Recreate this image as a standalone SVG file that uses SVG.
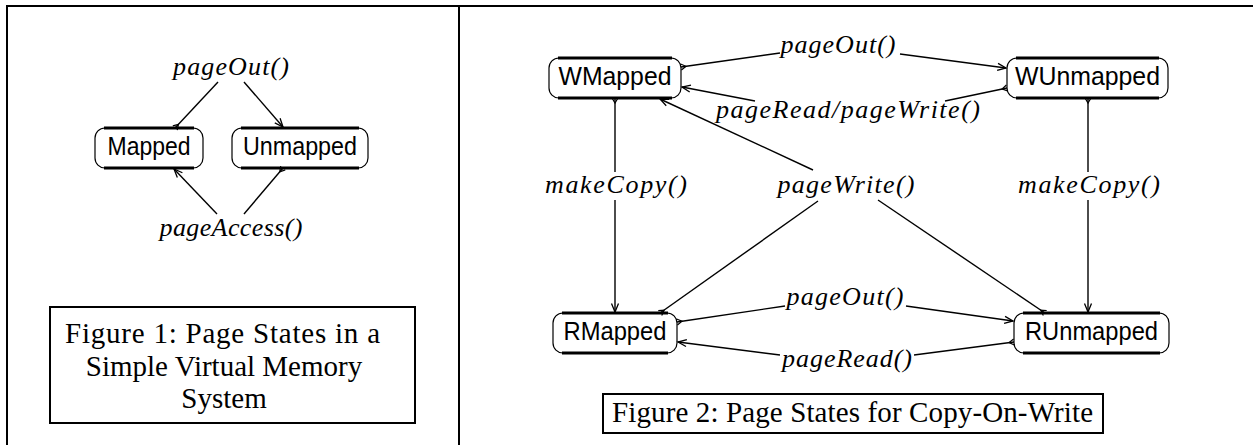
<svg xmlns="http://www.w3.org/2000/svg" width="1253" height="445" viewBox="0 0 1253 445">
  <style>
    .frame { stroke: #000; stroke-width: 2; fill: none; }
    .box { fill: #fff; stroke: #000; stroke-width: 1.2; }
    .edge { stroke: #000; stroke-width: 3.2; fill: none; }
    .state { font-family: "Liberation Sans", Arial, sans-serif; font-size: 25px; fill: #000; }
    .lbl { font-family: "Liberation Serif", "Times New Roman", serif; font-style: italic; font-size: 26px; fill: #000; }
    .cap { font-family: "Liberation Serif", "Times New Roman", serif; font-size: 29px; fill: #000; }
    .conn { stroke: #000; stroke-width: 1.4; fill: none; }
    .to { marker-end: url(#head); }
    .from { marker-start: url(#tail); }
  </style>
  <defs>
    <!-- open arrowhead at the target state -->
    <marker id="head" markerUnits="userSpaceOnUse" markerWidth="12" markerHeight="10" refX="9" refY="4" orient="auto" overflow="visible">
      <path d="M0.5,0.5 L9,4 L0.5,7.5" fill="none" stroke="#000" stroke-width="1.3"/>
    </marker>
    <!-- small fork where a transition leaves its source state -->
    <marker id="tail" markerUnits="userSpaceOnUse" markerWidth="8" markerHeight="8" refX="0" refY="3" orient="auto" overflow="visible">
      <path d="M0,0 L5,3 L0,6" fill="none" stroke="#000" stroke-width="1.2"/>
    </marker>
  </defs>

  <rect width="1253" height="445" fill="#fff"/>

  <!-- page frame and column separator -->
  <g id="frame">
    <path class="frame" d="M7,445 V6 H1253"/>
    <path class="frame" d="M459,6 V445"/>
  </g>

  <!-- Figure 1: simple virtual memory -->
  <g id="fig1-mapped">
    <rect class="box" x="95" y="128" width="108" height="40" rx="10"/>
    <path class="edge" d="M104,128 H194 M104,168 H194"/>
    <text class="state" x="149" y="155" text-anchor="middle" textLength="83" lengthAdjust="spacingAndGlyphs">Mapped</text>
  </g>
  <g id="fig1-unmapped">
    <rect class="box" x="232" y="128" width="136" height="40" rx="10"/>
    <path class="edge" d="M241,128 H359 M241,168 H359"/>
    <text class="state" x="300" y="155" text-anchor="middle" textLength="114" lengthAdjust="spacingAndGlyphs">Unmapped</text>
  </g>
  <g id="fig1-labels">
    <text class="lbl" x="231" y="75" text-anchor="middle" textLength="116">pageOut()</text>
    <text class="lbl" x="231" y="236" text-anchor="middle" textLength="143">pageAccess()</text>
  </g>
  <g id="fig1-connectors">
    <path class="conn from" d="M175,128 L218,82"/>
    <path class="conn to" d="M244,82 L283,127"/>
    <path class="conn from" d="M283,168 L244,214"/>
    <path class="conn to" d="M217,214 L174,169"/>
  </g>
  <g id="fig1-caption">
    <rect class="frame" x="50" y="307" width="365" height="116"/>
    <text class="cap" x="65" y="343" textLength="315">Figure 1:  Page States in a</text>
    <text class="cap" x="224" y="376" text-anchor="middle">Simple Virtual Memory</text>
    <text class="cap" x="224" y="408" text-anchor="middle">System</text>
  </g>

  <!-- Figure 2: copy-on-write -->
  <g id="fig2-wmapped">
    <rect class="box" x="549" y="58" width="132" height="40" rx="10"/>
    <path class="edge" d="M558,58 H672 M558,98 H672"/>
    <text class="state" x="615" y="85" text-anchor="middle" textLength="113" lengthAdjust="spacingAndGlyphs">WMapped</text>
  </g>
  <g id="fig2-wunmapped">
    <rect class="box" x="1007" y="58" width="161" height="40" rx="10"/>
    <path class="edge" d="M1016,58 H1159 M1016,98 H1159"/>
    <text class="state" x="1087.5" y="85" text-anchor="middle" textLength="145" lengthAdjust="spacingAndGlyphs">WUnmapped</text>
  </g>
  <g id="fig2-rmapped">
    <rect class="box" x="553" y="313" width="124" height="40" rx="10"/>
    <path class="edge" d="M562,313 H668 M562,353 H668"/>
    <text class="state" x="615" y="340" text-anchor="middle" textLength="103" lengthAdjust="spacingAndGlyphs">RMapped</text>
  </g>
  <g id="fig2-runmapped">
    <rect class="box" x="1014" y="313" width="155" height="40" rx="10"/>
    <path class="edge" d="M1023,313 H1160 M1023,353 H1160"/>
    <text class="state" x="1091.5" y="340" text-anchor="middle" textLength="133" lengthAdjust="spacingAndGlyphs">RUnmapped</text>
  </g>
  <g id="fig2-labels">
    <text class="lbl" x="838" y="53" text-anchor="middle" textLength="115">pageOut()</text>
    <text class="lbl" x="848" y="118" text-anchor="middle" textLength="264">pageRead/pageWrite()</text>
    <text class="lbl" x="616" y="193" text-anchor="middle" textLength="142">makeCopy()</text>
    <text class="lbl" x="846" y="193" text-anchor="middle" textLength="137">pageWrite()</text>
    <text class="lbl" x="1089" y="193" text-anchor="middle" textLength="142">makeCopy()</text>
    <text class="lbl" x="845" y="305" text-anchor="middle" textLength="117">pageOut()</text>
    <text class="lbl" x="847" y="367" text-anchor="middle" textLength="130">pageRead()</text>
  </g>
  <g id="fig2-connectors">
    <!-- WMapped -> WUnmapped -->
    <path class="conn from" d="M681,67 L780,53"/>
    <path class="conn to" d="M900,54 L1006,68"/>
    <!-- WUnmapped -> WMapped -->
    <path class="conn from" d="M1007,88 L945,101"/>
    <path class="conn to" d="M755,101 L682,87"/>
    <!-- makeCopy, left column -->
    <path class="conn from" d="M615,98 L615,172"/>
    <path class="conn to" d="M615,200 L615,312"/>
    <!-- makeCopy, right column -->
    <path class="conn from" d="M1088,98 L1088,172"/>
    <path class="conn to" d="M1088,200 L1088,312"/>
    <!-- pageWrite from both read states into WMapped -->
    <path class="conn from" d="M660,313 L818,201"/>
    <path class="conn from" d="M1045,313 L878,200"/>
    <path class="conn to" d="M813,170 L660,99"/>
    <!-- RMapped -> RUnmapped -->
    <path class="conn from" d="M677,322 L785,306"/>
    <path class="conn to" d="M906,306 L1013,321"/>
    <!-- RUnmapped -> RMapped -->
    <path class="conn from" d="M1014,342 L914,355"/>
    <path class="conn to" d="M780,355 L678,342"/>
  </g>
  <g id="fig2-caption">
    <rect class="frame" x="603" y="394" width="500" height="39"/>
    <text class="cap" x="612" y="422" textLength="481">Figure 2:  Page States for Copy-On-Write</text>
  </g>
</svg>
